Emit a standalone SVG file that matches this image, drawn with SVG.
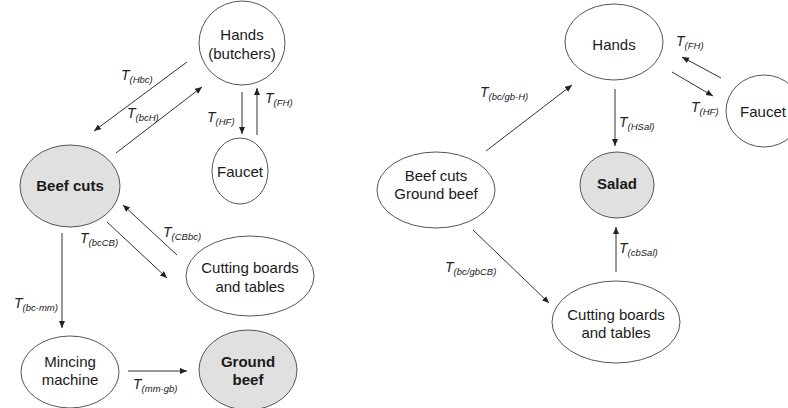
<svg xmlns="http://www.w3.org/2000/svg" width="788" height="408" viewBox="0 0 788 408">
<style>
.n{fill:#fff;stroke:#555;stroke-width:1}
.g{fill:#e0e0e0;stroke:#555;stroke-width:1}
.t{font-family:"Liberation Sans",Arial,sans-serif;font-size:15px;fill:#1a1a1a;text-anchor:middle}
.b{font-weight:bold}
.c line{stroke:#333;stroke-width:1;marker-end:url(#ah)}
.l{font-family:"Liberation Sans",Arial,sans-serif;font-style:italic;font-size:14px;fill:#222}
.s{font-size:9.5px}
</style>
<defs>
<marker id="ah" markerUnits="userSpaceOnUse" markerWidth="8" markerHeight="8" refX="7" refY="3" orient="auto">
<path d="M0,0 L7,3 L0,6 Z" fill="#222"/>
</marker>
</defs>
<rect width="788" height="408" fill="#fff"/>
<g id="connectors" class="c">
<line x1="187" y1="62" x2="94" y2="131"/>
<line x1="116" y1="153" x2="202" y2="87"/>
<line x1="242" y1="92" x2="242" y2="134"/>
<line x1="257" y1="135" x2="257" y2="88"/>
<line x1="177" y1="255" x2="123" y2="205"/>
<line x1="107" y1="222" x2="167" y2="278"/>
<line x1="62" y1="233" x2="62" y2="328"/>
<line x1="128" y1="371" x2="187" y2="371"/>
<line x1="486" y1="151" x2="572" y2="85"/>
<line x1="615" y1="89" x2="615" y2="146"/>
<line x1="721" y1="78" x2="682" y2="57"/>
<line x1="672" y1="72" x2="713" y2="96"/>
<line x1="616" y1="272" x2="616" y2="227"/>
<line x1="473" y1="230" x2="549" y2="303"/>
</g>
<g id="labels">
<text class="l" x="121" y="80">T<tspan class="s" dy="3">(Hbc)</tspan></text>
<text class="l" x="127" y="118">T<tspan class="s" dy="3">(bcH)</tspan></text>
<text class="l" x="207" y="122">T<tspan class="s" dy="3">(HF)</tspan></text>
<text class="l" x="265" y="103">T<tspan class="s" dy="3">(FH)</tspan></text>
<text class="l" x="163" y="237">T<tspan class="s" dy="3">(CBbc)</tspan></text>
<text class="l" x="80" y="243">T<tspan class="s" dy="3">(bcCB)</tspan></text>
<text class="l" x="14" y="308">T<tspan class="s" dy="3">(bc-mm)</tspan></text>
<text class="l" x="133" y="389">T<tspan class="s" dy="3">(mm-gb)</tspan></text>
<text class="l" x="480" y="97">T<tspan class="s" dy="3">(bc/gb-H)</tspan></text>
<text class="l" x="619" y="127">T<tspan class="s" dy="3">(HSal)</tspan></text>
<text class="l" x="676" y="46">T<tspan class="s" dy="3">(FH)</tspan></text>
<text class="l" x="691" y="112">T<tspan class="s" dy="3">(HF)</tspan></text>
<text class="l" x="619" y="253">T<tspan class="s" dy="3">(cbSal)</tspan></text>
<text class="l" x="445" y="272">T<tspan class="s" dy="3">(bc/gbCB)</tspan></text>
</g>
<g id="hands-butchers">
<ellipse class="n" cx="242" cy="43" rx="43" ry="42"/>
<text class="t" x="242" y="40">Hands</text>
<text class="t" x="242" y="59">(butchers)</text>
</g>
<g id="faucet-left">
<ellipse class="n" cx="240" cy="171" rx="28" ry="33"/>
<text class="t" x="240" y="177">Faucet</text>
</g>
<g id="beef-cuts">
<ellipse class="g" cx="70" cy="186" rx="50" ry="41"/>
<text class="t b" x="70" y="191">Beef cuts</text>
</g>
<g id="cutting-boards-left">
<ellipse class="n" cx="250" cy="276" rx="64" ry="40"/>
<text class="t" x="250" y="273">Cutting boards</text>
<text class="t" x="250" y="292">and tables</text>
</g>
<g id="mincing-machine">
<ellipse class="n" cx="70" cy="372" rx="49" ry="36"/>
<text class="t" x="70" y="367">Mincing</text>
<text class="t" x="70" y="385">machine</text>
</g>
<g id="ground-beef">
<ellipse class="g" cx="248" cy="370" rx="49" ry="40"/>
<text class="t b" x="248" y="367">Ground</text>
<text class="t b" x="248" y="385">beef</text>
</g>
<g id="hands">
<ellipse class="n" cx="614" cy="42" rx="49" ry="38"/>
<text class="t" x="614" y="50">Hands</text>
</g>
<g id="faucet-right">
<ellipse class="n" cx="764" cy="111" rx="38" ry="36"/>
<text class="t" x="763" y="117">Faucet</text>
</g>
<g id="beef-cuts-ground-beef">
<ellipse class="n" cx="436" cy="190" rx="59" ry="38"/>
<text class="t" x="436" y="181">Beef cuts</text>
<text class="t" x="436" y="199">Ground beef</text>
</g>
<g id="salad">
<ellipse class="g" cx="617" cy="185" rx="37" ry="33"/>
<text class="t b" x="617" y="189">Salad</text>
</g>
<g id="cutting-boards-right">
<ellipse class="n" cx="616" cy="322" rx="64" ry="41"/>
<text class="t" x="616" y="320">Cutting boards</text>
<text class="t" x="616" y="338">and tables</text>
</g>
</svg>
